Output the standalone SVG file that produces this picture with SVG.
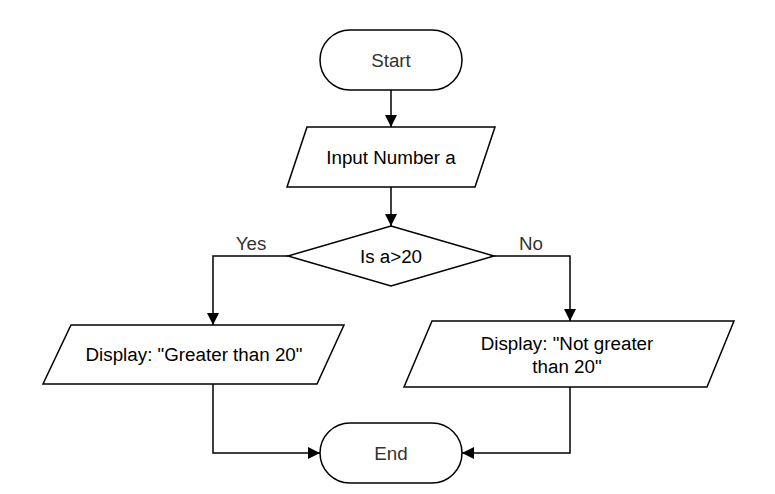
<svg xmlns="http://www.w3.org/2000/svg" width="775" height="494" viewBox="0 0 775 494">
<style>
.shape{fill:#fff;stroke:#000;stroke-width:1.5}
.edge{fill:none;stroke:#000;stroke-width:1.5}
text{font-family:"Liberation Sans",Arial,sans-serif;font-size:18.8px;text-anchor:middle;dominant-baseline:central}
.dark{fill:#000}
.grey{fill:#333}
</style>
<defs>
<marker id="arr" viewBox="0 0 10 10" refX="10" refY="5" markerWidth="12" markerHeight="12" markerUnits="userSpaceOnUse" orient="auto">
<path d="M0,0 L10,5 L0,10 Z" fill="#000"/>
</marker>
</defs>
<rect width="775" height="494" fill="#fff"/>
<g id="connectors">
<path class="edge" d="M391,90 V127" marker-end="url(#arr)"/>
<path class="edge" d="M391,187 V226" marker-end="url(#arr)"/>
<path class="edge" d="M288,256 H213 V325" marker-end="url(#arr)"/>
<path class="edge" d="M494,256 H570 V321" marker-end="url(#arr)"/>
<path class="edge" d="M213,384 V453 H320" marker-end="url(#arr)"/>
<path class="edge" d="M570,387 V453 H462" marker-end="url(#arr)"/>
<text class="grey" x="251" y="243">Yes</text>
<text class="grey" x="531" y="243">No</text>
</g>
<g id="start">
<rect class="shape" x="320" y="30" width="142" height="60" rx="30" ry="30"/>
<text class="grey" x="391" y="60">Start</text>
</g>
<g id="input">
<polygon class="shape" points="307,127 495,127 475,187 287,187"/>
<text class="dark" x="391" y="157">Input Number a</text>
</g>
<g id="decision">
<polygon class="shape" points="391,226 494,256 391,286 288,256"/>
<text class="dark" x="391" y="256">Is a&gt;20</text>
</g>
<g id="yesOut">
<polygon class="shape" points="71,325 344,325 317,384 43,384"/>
<text class="dark" x="194" y="354">Display: "Greater than 20"</text>
</g>
<g id="noOut">
<polygon class="shape" points="432,321 734,321 707,387 404,387"/>
<text class="dark" x="567" y="343">Display: "Not greater</text>
<text class="dark" x="567" y="366">than 20"</text>
</g>
<g id="end">
<rect class="shape" x="320" y="423" width="142" height="60" rx="30" ry="30"/>
<text class="grey" x="391" y="453">End</text>
</g>
</svg>
